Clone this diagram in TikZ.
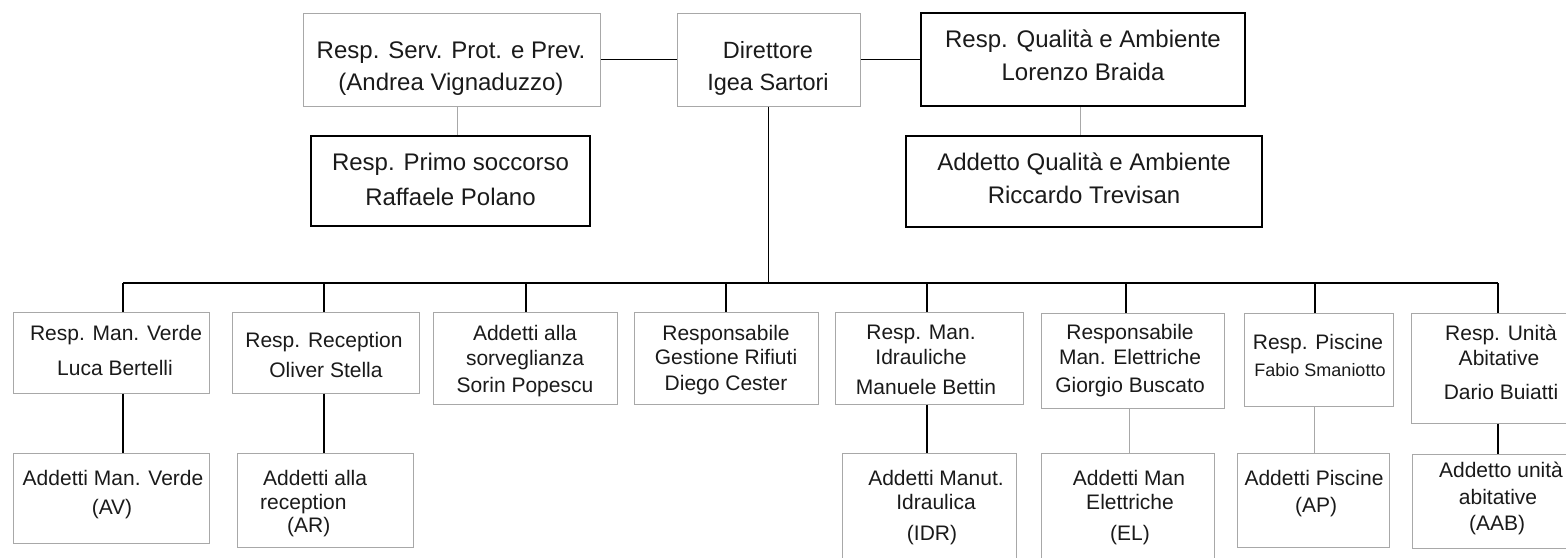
\documentclass[tikz,border=0pt]{standalone}
\usepackage{fontspec}
\setmainfont{Liberation Sans}
\usetikzlibrary{fit}
\definecolor{lg}{HTML}{A8A8A8}
\definecolor{tx}{HTML}{1A1A1A}
\tikzset{
  gbox/.style={draw=lg, line width=1pt, inner sep=0pt},
  bbox/.style={draw=black, line width=2pt, inner sep=0pt},
  tA/.style={anchor=base, inner sep=0pt, text=tx, font=\fontsize{24}{28}\selectfont},
  tB/.style={anchor=base, inner sep=0pt, text=tx, font=\fontsize{21}{25}\selectfont},
  tD/.style={anchor=base, inner sep=0pt, text=tx, font=\fontsize{23.5}{27}\selectfont},
  tS/.style={anchor=base, inner sep=0pt, text=tx, font=\fontsize{18}{21}\selectfont},
  conn/.style={draw=black, line width=1.5pt},
  thick conn/.style={draw=black, line width=2.2pt},
  gconn/.style={draw=lg, line width=1pt}
}
\begin{document}
\begin{tikzpicture}[x=1pt,y=-1pt]
\useasboundingbox (0,0) rectangle (1566,557);
% ---- top row boxes
\node[gbox, fit={(303,13) (600,106)}] (serv) {};
\node[gbox, fit={(677,13) (860,106)}] (dir) {};
\node[bbox, fit={(921,13) (1245,106)}] (qual) {};
\node[bbox, fit={(311,136) (590,226)}] (primo) {};
\node[bbox, fit={(906,136) (1262,227)}] (addq) {};
% texts
\node[tA] (serv1) at (451,58.6) {Resp. Serv. Prot. e Prev.};
\node[tA] (serv2) at (451,90.6) {(Andrea Vignaduzzo)};
\node[tD] (dir1) at (768,58.4) {Direttore};
\node[tD] (dir2) at (768,90.4) {Igea Sartori};
\node[tA] (qual1) at (1083,47.6) {Resp. Qualità e Ambiente};
\node[tA] (qual2) at (1083,80.6) {Lorenzo Braida};
\node[tA] (primo1) at (450.5,170.6) {Resp. Primo soccorso};
\node[tA] (primo2) at (450.5,205.6) {Raffaele Polano};
\node[tA] (addq1) at (1084,170.6) {Addetto Qualità e Ambiente};
\node[tA] (addq2) at (1084,203.6) {Riccardo Trevisan};
% ---- second row boxes
\node[gbox, fit={(13,312) (209,393)}] (verde) {};
\node[gbox, fit={(232,312) (419,393)}] (recep) {};
\node[gbox, fit={(433,312) (617,404)}] (sorv) {};
\node[gbox, fit={(634,312) (818,404)}] (rifi) {};
\node[gbox, fit={(835,312) (1023,404)}] (idr) {};
\node[gbox, fit={(1041,313) (1224,408)}] (elet) {};
\node[gbox, fit={(1244,313) (1393,406)}] (pisc) {};
\node[gbox, fit={(1411,313) (1566,423)}] (unita) {};
% texts
\node[tB] (verde1) at (116,340.6) {Resp. Man. Verde};
\node[tB] (verde2) at (115,375.6) {Luca Bertelli};
\node[tB] (recep1) at (324,347.6) {Resp. Reception};
\node[tB] (recep2) at (326,377.6) {Oliver Stella};
\node[tB] (sorv1) at (525,340.6) {Addetti alla};
\node[tB] (sorv2) at (525,365.6) {sorveglianza};
\node[tB] (sorv3) at (525,392.6) {Sorin Popescu};
\node[tB] (rifi1) at (726,340.6) {Responsabile};
\node[tB] (rifi2) at (726,364.6) {Gestione Rifiuti};
\node[tB] (rifi3) at (726,390.6) {Diego Cester};
\node[tB] (idr1) at (921,339.6) {Resp. Man.};
\node[tB] (idr2) at (921,364.6) {Idrauliche};
\node[tB] (idr3) at (926,394.6) {Manuele Bettin};
\node[tB] (elet1) at (1130,339.6) {Responsabile};
\node[tB] (elet2) at (1130,364.6) {Man. Elettriche};
\node[tB] (elet3) at (1130,392.6) {Giorgio Buscato};
\node[tB] (pisc1) at (1318,349.6) {Resp. Piscine};
\node[tS] (pisc2) at (1320,376.5) {Fabio Smaniotto};
\node[tB] (unita1) at (1501,340.6) {Resp. Unità};
\node[tB] (unita2) at (1499,365.6) {Abitative};
\node[tB] (unita3) at (1501,399.6) {Dario Buiatti};
% ---- third row boxes
\node[gbox, fit={(13,453) (209,543)}] (av) {};
\node[gbox, fit={(237,453) (413,547)}] (ar) {};
\node[gbox, fit={(842,453) (1016,570)}] (aidr) {};
\node[gbox, fit={(1041,453) (1214,570)}] (ael) {};
\node[gbox, fit={(1237,453) (1389,547)}] (ap) {};
\node[gbox, fit={(1412,454) (1566,548)}] (aab) {};
% texts
\node[tB] (av1) at (113,485.6) {Addetti Man. Verde};
\node[tB] (av2) at (112,514.6) {(AV)};
\node[tB, anchor=base west] (ar1) at (263,485.6) {Addetti alla};
\node[tB, anchor=base west] (ar2) at (260,509.6) {reception};
\node[tB, anchor=base west] (ar3) at (287,532.6) {(AR)};
\node[tB] (aidr1) at (936,485.6) {Addetti Manut.};
\node[tB] (aidr2) at (936,509.6) {Idraulica};
\node[tB] (aidr3) at (932,540.6) {(IDR)};
\node[tB] (ael1) at (1129,485.6) {Addetti Man};
\node[tB] (ael2) at (1130,509.6) {Elettriche};
\node[tB] (ael3) at (1130,540.6) {(EL)};
\node[tB] (ap1) at (1314,485.6) {Addetti Piscine};
\node[tB] (ap2) at (1316,512.6) {(AP)};
\node[tB] (aab1) at (1501,477.6) {Addetto unità};
\node[tB] (aab2) at (1498,504.6) {abitative};
\node[tB] (aab3) at (1497,530.6) {(AAB)};
% ---- connector coordinates
\coordinate (cs) at (457,0);
\coordinate (cq) at (1080,0);
\coordinate (b1) at (123,283);
\coordinate (b2) at (324,283);
\coordinate (b3) at (526,283);
\coordinate (b4) at (726,283);
\coordinate (b5) at (927,283);
\coordinate (b6) at (1126,283);
\coordinate (b7) at (1315,283);
\coordinate (b8) at (1498,283);
\coordinate (ce) at (1129,0);
\coordinate (cp) at (1314,0);
% ---- connectors
\draw[conn] (serv.east) -- (dir.west);
\draw[conn] (dir.east) -- (qual.west);
\draw[gconn] (serv.south -| cs) -- (primo.north -| cs);
\draw[gconn] (qual.south -| cq) -- (addq.north -| cq);
\draw[conn] (dir.south) -- (dir.south |- b1);
\draw[conn] (b1) -- (b8);
\draw[conn] (b1) -- (b1 |- verde.north);
\draw[conn] (b2) -- (b2 |- recep.north);
\draw[conn] (b3) -- (b3 |- sorv.north);
\draw[conn] (b4) -- (b4 |- rifi.north);
\draw[conn] (b5) -- (b5 |- idr.north);
\draw[conn] (b6) -- (b6 |- elet.north);
\draw[conn] (b7) -- (b7 |- pisc.north);
\draw[conn] (b8) -- (b8 |- unita.north);
\draw[conn] (verde.south -| b1) -- (av.north -| b1);
\draw[conn] (recep.south -| b2) -- (ar.north -| b2);
\draw[conn] (idr.south -| b5) -- (aidr.north -| b5);
\draw[gconn] (elet.south -| ce) -- (ael.north -| ce);
\draw[gconn] (pisc.south -| cp) -- (ap.north -| cp);
\draw[thick conn] (unita.south -| b8) -- (aab.north -| b8);
\end{tikzpicture}
\end{document}
